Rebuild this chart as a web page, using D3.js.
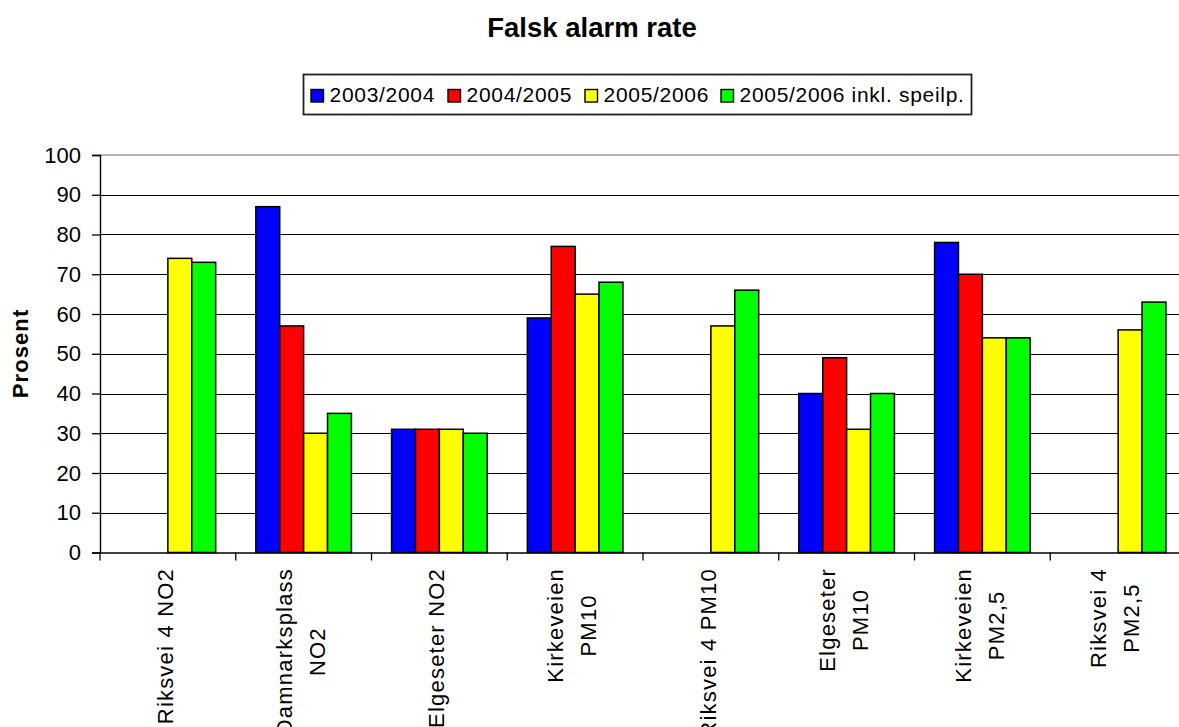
<!DOCTYPE html>
<html>
<head>
<meta charset="utf-8">
<script src="https://cdn.jsdelivr.net/npm/d3@7"></script>
<style>
  html, body { margin: 0; padding: 0; background: #fff; }
  svg { display: block; font-family: "Liberation Sans", Arial, sans-serif; }
</style>
</head>
<body>
<svg id="chart" width="1179" height="727"></svg>
<script>
// Measuring stations (multi-line labels split where the axis wraps them)
const categories = [
  "Riksvei 4 NO2", "Damnarksplass NO2", "Elgeseter NO2", "Kirkeveien PM10",
  "Riksvei 4 PM10", "Elgeseter PM10", "Kirkeveien PM2,5", "Riksvei 4 PM2,5"
];
const categoryLines = [
  ["Riksvei 4 NO2"], ["Damnarksplass", "NO2"], ["Elgeseter NO2"], ["Kirkeveien", "PM10"],
  ["Riksvei 4 PM10"], ["Elgeseter", "PM10"], ["Kirkeveien", "PM2,5"], ["Riksvei 4", "PM2,5"]
];

// Seasons and false alarm rate (%) per station; null = no data that season
const seriesNames = ["2003/2004", "2004/2005", "2005/2006", "2005/2006 inkl. speilp."];
const values2003 = [null, 87, 31, 59, null, 40, 78, null];
const values2004 = [null, 57, 31, 77, null, 49, 70, null];
const values2005 = [74, 30, 31, 65, 57, 31, 54, 56];
const values2005incl = [73, 35, 30, 68, 66, 40, 54, 63];
const seriesColors = ["#0000ff", "#ff0000", "#ffff00", "#00ff00"];

const yTicks = [0, 10, 20, 30, 40, 50, 60, 70, 80, 90, 100];

const series = [values2003, values2004, values2005, values2005incl];

const svg = d3.select("#chart");

const plot = { left: 100, right: 1186, top: 155, bottom: 552.5 };

const x = d3.scaleBand().domain(categories).range([plot.left, plot.right]).padding(0);
const y = d3.scaleLinear().domain([0, 100]).range([plot.bottom, plot.top]);

// bars fill 4 / (4 + 1.68) of each category slot
const groupWidth = x.bandwidth() * 4 / 5.68;
const xs = d3.scaleBand().domain(d3.range(series.length)).range([0, groupWidth]).padding(0);

// Title
svg.append("text")
  .attr("x", 592).attr("y", 36.7)
  .attr("text-anchor", "middle")
  .attr("font-weight", "bold")
  .attr("font-size", 27.5)
  .attr("fill", "#000")
  .text("Falsk alarm rate");

// Legend
const legend = svg.append("g");
legend.append("rect")
  .attr("x", 303.5).attr("y", 74.5).attr("width", 668).attr("height", 40)
  .attr("fill", "#fff").attr("stroke", "#222").attr("stroke-width", 1.8);
const legendX = [311, 448, 585, 721];
seriesNames.forEach((name, i) => {
  legend.append("rect")
    .attr("x", legendX[i]).attr("y", 89.5).attr("width", 12.5).attr("height", 12.5)
    .attr("fill", seriesColors[i]).attr("stroke", "#000").attr("stroke-width", 1.4);
  legend.append("text")
    .attr("x", legendX[i] + 18.5).attr("y", 102)
    .attr("font-size", 21).attr("letter-spacing", 0.7)
    .attr("fill", "#000")
    .text(name);
});

// Horizontal gridlines
svg.append("g")
  .selectAll("line")
  .data(yTicks.filter(t => t > 0 && t < 100))
  .join("line")
  .attr("x1", plot.left).attr("x2", plot.right)
  .attr("y1", d => Math.round(y(d)) + 0.5).attr("y2", d => Math.round(y(d)) + 0.5)
  .attr("stroke", "#000").attr("stroke-width", 1.2);

// Plot area top border
svg.append("line")
  .attr("x1", plot.left).attr("x2", plot.right)
  .attr("y1", y(100)).attr("y2", y(100))
  .attr("stroke", "#9a9a9a").attr("stroke-width", 1.3);

// Bars
series.forEach((vals, si) => {
  svg.append("g")
    .selectAll("rect")
    .data(vals.map((v, i) => ({ cat: categories[i], v })).filter(d => d.v !== null))
    .join("rect")
    .attr("x", d => x(d.cat) + (x.bandwidth() - groupWidth) / 2 + xs(si))
    .attr("y", d => y(d.v))
    .attr("width", xs.bandwidth())
    .attr("height", d => y(0) - y(d.v))
    .attr("fill", seriesColors[si])
    .attr("stroke", "#000")
    .attr("stroke-width", 1.5);
});

// Y axis
const yAxis = svg.append("g")
  .attr("transform", `translate(${plot.left},0)`)
  .call(d3.axisLeft(y).tickValues(yTicks).tickSize(8).tickPadding(11).tickFormat(d3.format("d")));
yAxis.select(".domain").attr("stroke", "#000").attr("stroke-width", 1.4);
yAxis.selectAll(".tick line").attr("stroke", "#000").attr("stroke-width", 1.3);
yAxis.selectAll(".tick text")
  .attr("font-size", 22).attr("font-family", "Liberation Sans, Arial, sans-serif")
  .attr("fill", "#000");

// X axis: line and ticks at category boundaries
const xAxis = svg.append("g")
  .attr("transform", `translate(0,${plot.bottom})`)
  .call(d3.axisBottom(x).tickSize(0).tickFormat(""));
xAxis.select(".domain").attr("stroke", "#000").attr("stroke-width", 1.4);
xAxis.selectAll(".tick").remove();
xAxis.selectAll("line.bound")
  .data(categories.map(c => x(c)).concat([plot.right]))
  .join("line")
  .attr("class", "bound")
  .attr("x1", d => d).attr("x2", d => d)
  .attr("y1", 0).attr("y2", 8)
  .attr("stroke", "#000").attr("stroke-width", 1.3);

// Rotated category labels
const labelTop = 568;
const lineGap = 33;
const capH = 15.5;
categoryLines.forEach((lines, i) => {
  const cx = x(categories[i]) + x.bandwidth() / 2;
  const g = svg.append("g").attr("transform", `translate(${cx},${labelTop}) rotate(-90)`);
  const texts = lines.map((ln, li) => g.append("text")
    .attr("font-size", 22).attr("letter-spacing", 1.2)
    .attr("fill", "#000")
    .attr("text-anchor", "middle")
    .attr("y", -3 + (li - (lines.length - 1) / 2) * lineGap + capH / 2)
    .text(ln));
  const w = d3.max(texts, t => t.node().getComputedTextLength());
  texts.forEach(t => t.attr("x", -w / 2));
});

// Y axis title
svg.append("text")
  .attr("transform", "translate(28,353.5) rotate(-90)")
  .attr("text-anchor", "middle")
  .attr("font-weight", "bold")
  .attr("font-size", 22).attr("letter-spacing", 1.1)
  .attr("fill", "#000")
  .text("Prosent");
</script>
</body>
</html>
